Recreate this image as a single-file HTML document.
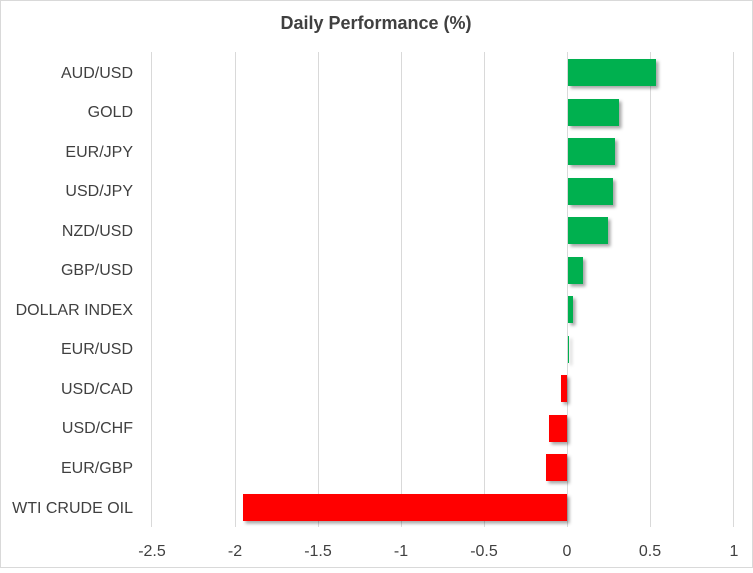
<!DOCTYPE html>
<html><head><meta charset="utf-8"><style>
body{margin:0;background:#fff}
svg text{font-family:"Liberation Sans",sans-serif;fill:#404040}
</style></head><body>
<svg width="753" height="568" xmlns="http://www.w3.org/2000/svg">
<defs><filter id="s" x="-10%" y="-20%" width="130%" height="160%"><feDropShadow dx="2.5" dy="2.5" stdDeviation="1.5" flood-color="#000" flood-opacity="0.35"/></filter></defs>
<rect x="0.5" y="0.5" width="752" height="567" fill="#fff" stroke="#d9d9d9"/>
<text x="376" y="29" text-anchor="middle" font-size="18" font-weight="bold" style="fill:#404040">Daily Performance  (%)</text>
<g stroke="#d9d9d9" stroke-width="1">
<line x1="151.5" y1="52" x2="151.5" y2="527"/><line x1="235.5" y1="52" x2="235.5" y2="527"/>
<line x1="318.5" y1="52" x2="318.5" y2="527"/><line x1="401.5" y1="52" x2="401.5" y2="527"/>
<line x1="484.5" y1="52" x2="484.5" y2="527"/><line x1="567.5" y1="52" x2="567.5" y2="527"/>
<line x1="650.5" y1="52" x2="650.5" y2="527"/><line x1="733.5" y1="52" x2="733.5" y2="527"/>
</g>
<g font-size="16" text-anchor="middle">
<text x="152" y="556">-2.5</text><text x="235" y="556">-2</text><text x="318" y="556">-1.5</text><text x="401" y="556">-1</text><text x="484" y="556">-0.5</text><text x="567" y="556">0</text><text x="650" y="556">0.5</text><text x="734" y="556">1</text>
</g>
<g filter="url(#s)">
<rect x="568" y="59" width="88" height="27" fill="#00B050"/>
<rect x="568" y="99" width="51" height="27" fill="#00B050"/>
<rect x="568" y="138" width="47" height="27" fill="#00B050"/>
<rect x="568" y="178" width="45" height="27" fill="#00B050"/>
<rect x="568" y="217" width="40" height="27" fill="#00B050"/>
<rect x="568" y="257" width="15" height="27" fill="#00B050"/>
<rect x="568" y="296" width="5" height="27" fill="#00B050"/>
<rect x="568" y="336" width="1" height="27" fill="#00B050"/>
<rect x="561" y="375" width="6" height="27" fill="#FF0000"/>
<rect x="549" y="415" width="18" height="27" fill="#FF0000"/>
<rect x="546" y="454" width="21" height="27" fill="#FF0000"/>
<rect x="243" y="494" width="324" height="27" fill="#FF0000"/>
</g>
<g font-size="16" text-anchor="end">
<text x="133" y="78">AUD/USD</text><text x="133" y="117">GOLD</text><text x="133" y="157">EUR/JPY</text>
<text x="133" y="196">USD/JPY</text><text x="133" y="236">NZD/USD</text><text x="133" y="275">GBP/USD</text>
<text x="133" y="315">DOLLAR INDEX</text><text x="133" y="354">EUR/USD</text><text x="133" y="394">USD/CAD</text>
<text x="133" y="433">USD/CHF</text><text x="133" y="473">EUR/GBP</text><text x="133" y="513">WTI CRUDE OIL</text>
</g>
</svg>
</body></html>
